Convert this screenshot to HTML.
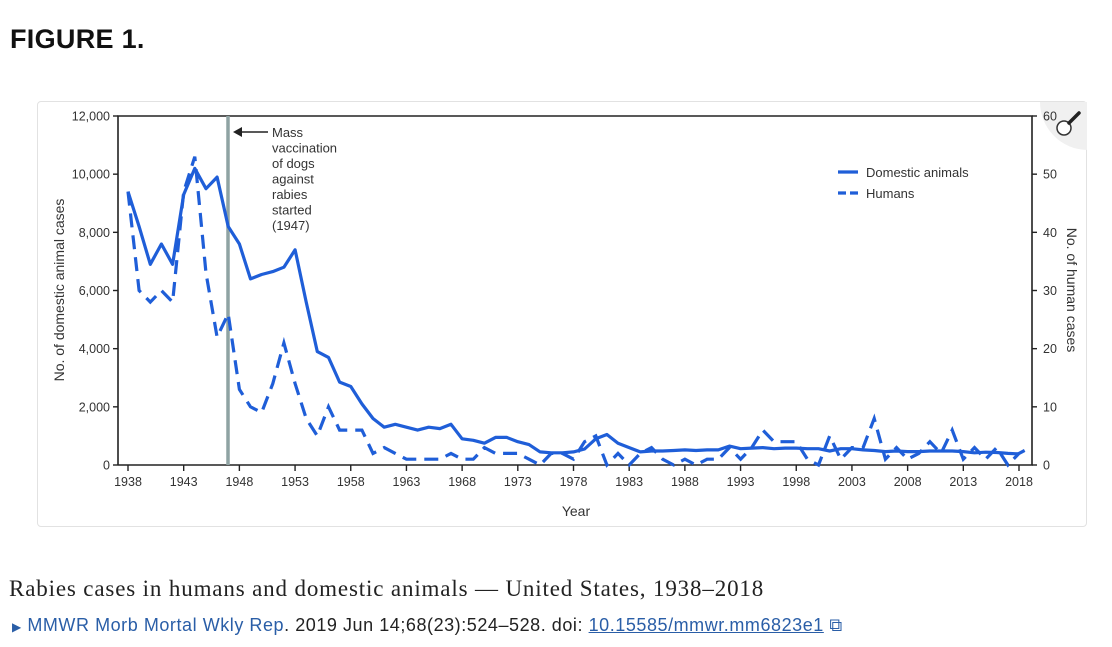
<!DOCTYPE html>
<html><head><meta charset="utf-8"><style>
body{margin:0;background:#fff;width:1112px;height:647px;overflow:hidden;font-family:"Liberation Sans",sans-serif;position:relative}
#title{position:absolute;left:10px;top:24px;font-size:27px;font-weight:bold;color:#111;letter-spacing:0.3px}
#card{position:absolute;left:37px;top:101px;width:1050px;height:426px;border:1px solid #e2e2e2;border-radius:4px;box-sizing:border-box}
#caption{position:absolute;left:9px;top:576px;font-family:"Liberation Serif",serif;font-size:23px;letter-spacing:0.85px;color:#222;white-space:nowrap}
#cite{position:absolute;left:12px;top:615px;font-size:18px;letter-spacing:0.55px;color:#222;white-space:nowrap}
#cite .b{color:#2a5ea7}
#cite u{color:#2a5ea7}
svg{position:absolute;left:0;top:0}
</style></head><body>
<div id="title">FIGURE 1.</div>
<div id="card"></div>
<svg id="chart" width="1112" height="647"></svg>
<div id="caption">Rabies cases in humans and domestic animals — United States, 1938–2018</div>
<div id="cite"><span style="color:#2a5ea7;font-size:12px">▶</span> <span class="b">MMWR Morb Mortal Wkly Rep</span>. 2019 Jun 14;68(23):524–528. doi: <u>10.15585/mmwr.mm6823e1</u> <span style="color:#2a5ea7">⧉</span></div>
<script>
const startYear = 1938;
const domestic = [9400,8200,6900,7600,6900,9300,10200,9500,9900,8200,7600,6400,6550,6650,6800,7400,5600,3900,3700,2850,2700,2100,1600,1300,1400,1300,1200,1300,1250,1400,900,850,750,950,950,800,700,450,420,420,450,550,900,1050,750,600,450,480,480,500,520,500,520,520,650,560,580,600,560,580,580,560,560,480,560,560,520,500,460,480,460,460,480,480,480,460,420,440,430,400,380];
const humans = [47,30,28,30,28,47,53,33,22,26,13,10,9,14,21,14,8,5,10,6,6,6,2,3,2,1,1,1,1,2,1,1,3,2,2,2,1,0,2,2,1,4,5,0,2,0,2,3,1,0,1,0,1,1,3,1,3,6,4,4,4,1,0,5,1,3,3,8,1,3,1,2,4,2,6,1,3,1,3,0,2,3];
const leftTicks = [0,2000,4000,6000,8000,10000,12000];
const leftTickLabels = ["0","2,000","4,000","6,000","8,000","10,000","12,000"];
const rightTicks = [0,10,20,30,40,50,60];
const xTicks = [1938,1943,1948,1953,1958,1963,1968,1973,1978,1983,1988,1993,1998,2003,2008,2013,2018];

const NS="http://www.w3.org/2000/svg";
const svg=document.getElementById('chart');
const X0=128,X1=1019,Y0=465,Y1=116,AXL=118,AXR=1032;
const x=yr=>X0+(yr-1938)*(X1-X0)/80;
const yL=v=>Y0-v*(Y0-Y1)/12000;
const yR=v=>Y0-v*(Y0-Y1)/60;
function mk(tag,attrs,txt){const e=document.createElementNS(NS,tag);for(const k in attrs)e.setAttribute(k,attrs[k]);if(txt!==undefined)e.textContent=txt;svg.appendChild(e);return e;}
const C="#1f5ed8",TX="#333",F="font-family:'Liberation Sans',sans-serif";

let e;
// magnifier badge (behind)
e=mk('path',{d:'M1040,102 H1087 V150 A48,48 0 0 1 1040,102 Z',fill:'#f0f0f0'});


e=mk('path',{d:`M${AXL},${Y0} V${Y1} H${AXR} V${Y0} H${AXL}`,fill:'none',stroke:'#222','stroke-width':1.6});


e=mk('line',{x1:228,x2:228,y1:Y1,y2:Y0,stroke:'#8fa3a3','stroke-width':3.5});


leftTicks.forEach((v,i)=>{
  e=mk('line',{x1:AXL-5,x2:AXL,y1:yL(v),y2:yL(v),stroke:'#222','stroke-width':1.4});
  
  
  e=mk('text',{x:AXL-8,y:yL(v)+4.5,'text-anchor':'end','font-size':12.5,fill:TX,style:F},leftTickLabels[i]);
  
  
});
rightTicks.forEach(v=>{
  e=mk('line',{x1:AXR,x2:AXR+5,y1:yR(v),y2:yR(v),stroke:'#222','stroke-width':1.4});
  
  
  e=mk('text',{x:AXR+11,y:yR(v)+4.5,'font-size':12.5,fill:TX,style:F},String(v));
  
  
});
xTicks.forEach(v=>{
  e=mk('line',{x1:x(v),x2:x(v),y1:Y0,y2:Y0+6,stroke:'#222','stroke-width':1.4});
  
  
  e=mk('text',{x:x(v),y:Y0+21,'text-anchor':'middle','font-size':12.5,fill:TX,style:F},String(v));
  
  
});
e=mk('text',{x:576,y:516,'text-anchor':'middle','font-size':14,fill:TX,style:F},'Year');


e=mk('text',{transform:'translate(64,290) rotate(-90)','text-anchor':'middle','font-size':14,fill:TX,style:F},'No. of domestic animal cases');


e=mk('text',{transform:'translate(1067,290) rotate(90)','text-anchor':'middle','font-size':14,fill:TX,style:F},'No. of human cases');



const dPath=domestic.map((v,i)=>(i?'L':'M')+x(startYear+i).toFixed(1)+','+yL(v).toFixed(1)).join(' ');
const hPath=humans.map((v,i)=>(i?'L':'M')+x(startYear+i).toFixed(1)+','+yR(v).toFixed(1)).join(' ');
e=mk('path',{d:hPath,fill:'none',stroke:C,'stroke-width':3.2,'stroke-dasharray':'14,8','stroke-linejoin':'miter'});


e=mk('path',{d:dPath,fill:'none',stroke:C,'stroke-width':3.2,'stroke-linejoin':'round'});



// annotation
e=mk('line',{x1:238,x2:268,y1:132,y2:132,stroke:'#222','stroke-width':1.5});


e=mk('path',{d:'M233,132 L242,127 L242,137 Z',fill:'#222'});


["Mass","vaccination","of dogs","against","rabies","started","(1947)"].forEach((t,i)=>{
  e=mk('text',{x:272,y:137+i*15.5,'font-size':13,fill:TX,style:F},t);
  
  
});
// legend
e=mk('line',{x1:838,x2:858,y1:172,y2:172,stroke:C,'stroke-width':3.2});


e=mk('text',{x:866,y:177,'font-size':13,fill:TX,style:F},'Domestic animals');


e=mk('line',{x1:838,x2:858,y1:193,y2:193,stroke:C,'stroke-width':3.2,'stroke-dasharray':'8,4'});


e=mk('text',{x:866,y:198,'font-size':13,fill:TX,style:F},'Humans');


e=mk('circle',{cx:1064,cy:128,r:7,fill:'#fff',stroke:'#333','stroke-width':1.5});


e=mk('line',{x1:1069,y1:123,x2:1079,y2:113,stroke:'#222','stroke-width':3.5,'stroke-linecap':'round'});


</script>
</body></html>
